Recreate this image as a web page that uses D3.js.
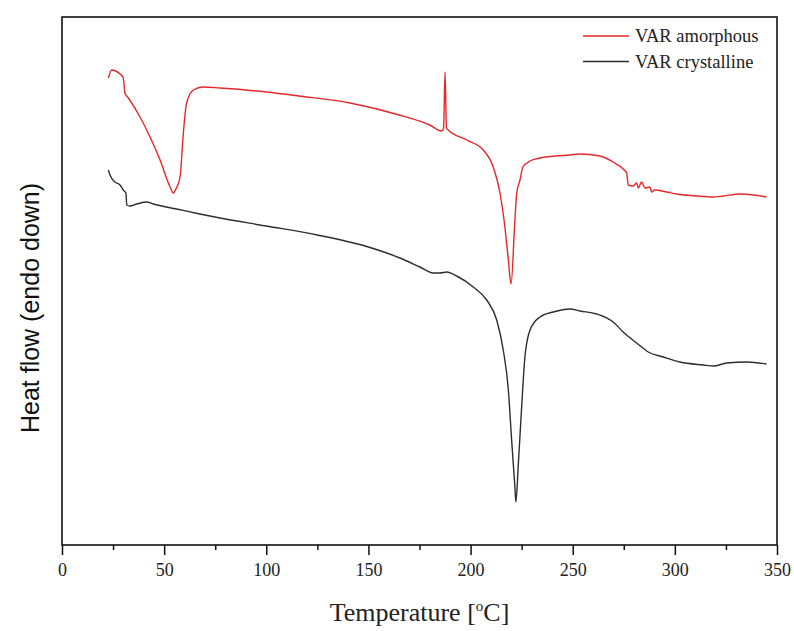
<!DOCTYPE html>
<html>
<head>
<meta charset="utf-8">
<script src="https://cdn.jsdelivr.net/npm/d3@7"></script>
<style>
  body { margin: 0; background: #fff; }
  svg { display: block; }
</style>
</head>
<body>
<div id="figure-holder"></div>
<script>
// temperatures (°C) and heat flow (arbitrary units, endo down)
const amorphousT = [22.7, 24.3, 28.4, 30.0, 30.8, 32.5, 38.2, 43.1, 48.0, 52.9, 54.5, 55.5, 57.8, 59.4, 61.0, 64.3, 69.2, 77.3,
    100, 116, 141, 165, 180, 185.9, 186.8, 187.5, 188.2, 189.1, 198.1, 206.2, 211.1, 214.4, 216.8, 218.5, 219.8, 221.7, 222.6,
    224.2, 225.6, 229.1, 234, 241.3, 248.7, 253.5, 263.3, 269.8, 274.7, 276.4, 277.2, 279.6, 281.3, 282.1, 283.7, 285.4, 287.8,
    288.6, 290.2, 296.0, 300.9, 310.7, 318.8, 323.6, 331.9, 338.4, 344.9];
const amorphousHF = [46.7, 47.5, 47.1, 46.7, 45.2, 44.7, 42.8, 40.8, 38.5, 35.8, 35.2, 35.5, 36.8, 41.2, 44.2, 45.5, 45.8, 45.7,
    45.3, 44.9, 44.2, 43.0, 42.0, 41.4, 41.7, 47.3, 41.7, 41.5, 40.5, 39.5, 37.8, 35.2, 31.8, 28.5, 26.1, 32.5, 35.2,
    36.5, 37.8, 38.4, 38.7, 38.9, 39.0, 39.1, 38.9, 38.3, 37.6, 37.2, 36.0, 35.9, 36.2, 35.7, 36.3, 35.7, 35.8,
    35.3, 35.5, 35.3, 35.1, 34.9, 34.8, 34.9, 35.1, 35.0, 34.8];

const crystallineT = [22.7, 23.5, 25.9, 28.4, 30.0, 31.3, 31.7, 33.3, 36.6, 41.5, 44.7, 56.1, 67.5, 77.3, 100, 125, 150, 165.4, 175.2,
    181.7, 185.0, 188.3, 193.2, 201.3, 207.9, 212.8, 216.0, 218.5, 220.1, 221.7, 222.2, 223.3, 225.0, 226.6, 229.1, 234.0,
    240.5, 248.7, 253.5, 261.7, 269.8, 274.7, 281.3, 287.0, 294.3, 302.5, 313.9, 318.8, 325.4, 335.2, 344.9];
const crystallineHF = [37.5, 37.0, 36.3, 36.0, 35.5, 35.2, 34.0, 33.9, 34.1, 34.3, 34.1, 33.6, 33.1, 32.7, 31.9, 31.0, 29.8, 28.7, 27.8,
    27.2, 27.2, 27.3, 26.9, 25.8, 24.5, 22.5, 19.5, 15.5, 10.5, 5.8, 4.3, 7.8, 13.8, 18.8, 21.5, 22.8,
    23.3, 23.6, 23.4, 23.1, 22.3, 21.3, 20.2, 19.3, 18.8, 18.3, 18.0, 17.9, 18.2, 18.3, 18.1];

const seriesNames = ['VAR amorphous', 'VAR crystalline'];
const seriesColors = ['#e5282a', '#2e2e2e'];
const xTicks = [0, 50, 100, 150, 200, 250, 300, 350];
const xMinorTicks = [25, 75, 125, 175, 225, 275, 325];

const W = 794, H = 631;
const margin = { left: 62, right: 17, top: 17, bottom: 86 };
const width = W - margin.left - margin.right;
const height = H - margin.top - margin.bottom;

const svg = d3.select('#figure-holder').append('svg')
    .attr('width', W)
    .attr('height', H);

const g = svg.append('g')
    .attr('transform', `translate(${margin.left}, ${margin.top})`);

const x = d3.scaleLinear().domain([0, 350]).range([0, width]);
const y = d3.scaleLinear().domain([0, 52.8]).range([height, 0]);

const series = [
    amorphousT.map((t, i) => [t, amorphousHF[i]]),
    crystallineT.map((t, i) => [t, crystallineHF[i]])
];

const line = d3.line()
    .x(d => x(d[0]))
    .y(d => y(d[1]))
    .curve(d3.curveMonotoneX);

series.forEach((s, i) => {
    g.append('path')
        .datum(s)
        .attr('d', line)
        .attr('fill', 'none')
        .attr('stroke', seriesColors[i])
        .attr('stroke-width', 1.4)
        .attr('stroke-linejoin', 'round');
});

// frame
g.append('rect')
    .attr('width', width)
    .attr('height', height)
    .attr('fill', 'none')
    .attr('stroke', '#111')
    .attr('stroke-width', 1.6);

// x axis: major and minor ticks
const xAxis = g.append('g')
    .attr('id', 'x-axis')
    .attr('transform', `translate(0, ${height})`)
    .call(d3.axisBottom(x).tickValues(xTicks).tickSize(10).tickPadding(8).tickFormat(d3.format('d')));

g.append('g')
    .attr('transform', `translate(0, ${height})`)
    .call(d3.axisBottom(x).tickValues(xMinorTicks).tickSize(5).tickFormat(''))
    .call(a => a.select('.domain').remove());

g.selectAll('.tick line').attr('stroke', '#111').attr('stroke-width', 1.5);
xAxis.select('.domain').remove();
xAxis.selectAll('text')
    .style('font-family', '"Liberation Serif", "Times New Roman", serif')
    .style('font-size', '18px')
    .style('fill', '#222');

// axis titles
const xTitle = svg.append('text')
    .attr('x', margin.left + width / 2)
    .attr('y', 621)
    .attr('text-anchor', 'middle')
    .style('font-family', '"Liberation Serif", "Times New Roman", serif')
    .style('font-size', '26px')
    .style('fill', '#222');
xTitle.append('tspan').text('Temperature [');
xTitle.append('tspan').text('o').attr('dy', -10).style('font-size', '15px');
xTitle.append('tspan').text('C]').attr('dy', 10);

svg.append('text')
    .attr('transform', 'translate(39, 308) rotate(-90)')
    .attr('text-anchor', 'middle')
    .style('font-family', '"Liberation Sans", Arial, sans-serif')
    .style('font-size', '25px')
    .style('fill', '#111')
    .text('Heat flow (endo down)');

// legend
const legend = svg.append('g');
seriesNames.forEach((name, i) => {
    const ly = 36 + i * 25.5;
    legend.append('line')
        .attr('x1', 583).attr('x2', 629)
        .attr('y1', ly).attr('y2', ly)
        .attr('stroke', seriesColors[i])
        .attr('stroke-width', 1.3);
    legend.append('text')
        .attr('x', 635)
        .attr('y', ly + 6)
        .style('font-family', '"Liberation Serif", "Times New Roman", serif')
        .style('font-size', '18.5px')
        .style('fill', '#222')
        .text(name);
});
</script>
</body>
</html>
